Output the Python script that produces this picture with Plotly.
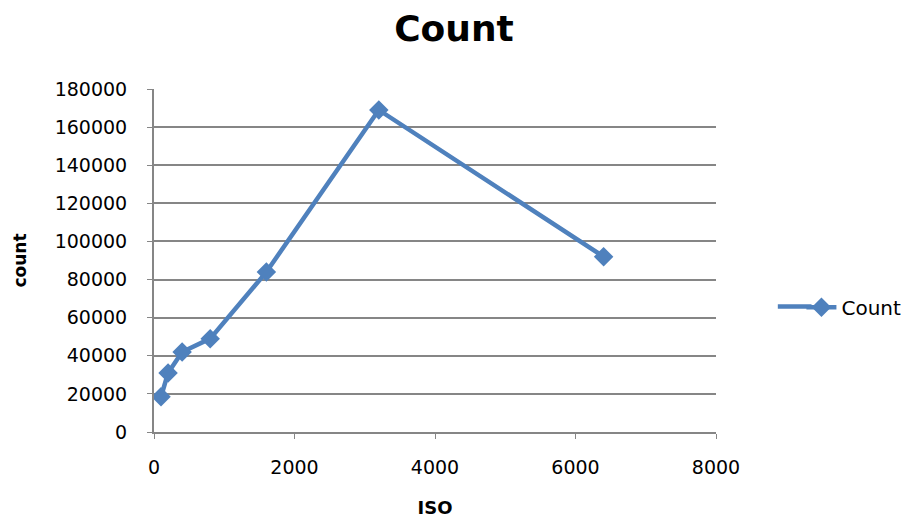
import plotly.graph_objects as go

# ISO sensitivity vs. count
iso = [100, 200, 400, 800, 1600, 3200, 6400]
count = [18500, 31000, 42000, 49000, 84000, 169000, 92000]

x_ticks = [0, 2000, 4000, 6000, 8000]
y_ticks = list(range(0, 180001, 20000))

FONT = "'DejaVu Sans', Verdana, sans-serif"
BLUE = "#4F81BD"
AXIS_GREY = "#868686"

fig = go.Figure(
    go.Scatter(
        x=iso,
        y=count,
        mode="lines+markers",
        name="Count",
        line=dict(color=BLUE, width=4.5),
        marker=dict(symbol="diamond", size=15, color=BLUE),
    )
)

fig.update_layout(
    width=908,
    height=520,
    paper_bgcolor="white",
    plot_bgcolor="white",
    margin=dict(l=154, r=192, t=89, b=88, autoexpand=False),
    font=dict(family=FONT, color="black", size=19),
    title=dict(
        text="<b>Count</b>",
        x=0.5,
        xanchor="center",
        y=0.945,
        yanchor="middle",
        font=dict(size=36, family=FONT),
    ),
    showlegend=True,
    legend=dict(
        x=1.152,
        y=0.364,
        xanchor="left",
        yanchor="middle",
        font=dict(size=20),
        bgcolor="rgba(0,0,0,0)",
    ),
    # longer legend key line, extending the built-in symbol to the left
    shapes=[
        dict(
            type="line",
            xref="paper",
            yref="paper",
            x0=1.11,
            x1=1.17,
            y0=0.366,
            y1=0.366,
            line=dict(color=BLUE, width=4.5),
            layer="below",
        )
    ],
)

fig.update_xaxes(
    range=[0, 8000],
    tickvals=x_ticks,
    ticktext=[str(v) for v in x_ticks],
    showgrid=False,
    zeroline=False,
    showline=True,
    linecolor=AXIS_GREY,
    linewidth=2,
    ticks="outside",
    ticklen=5,
    tickcolor=AXIS_GREY,
    tickfont=dict(size=19),
    ticklabelstandoff=12,
    automargin=False,
    title=dict(text="<b>ISO</b>", font=dict(size=18), standoff=25),
)

fig.update_yaxes(
    range=[0, 180000],
    tickvals=y_ticks,
    ticktext=[str(v) for v in y_ticks],
    showgrid=True,
    gridcolor=AXIS_GREY,
    gridwidth=1.5,
    zeroline=False,
    showline=True,
    linecolor=AXIS_GREY,
    linewidth=2,
    ticks="outside",
    ticklen=5,
    tickcolor=AXIS_GREY,
    tickfont=dict(size=19),
    ticklabelstandoff=16,
    automargin=False,
    title=dict(text="<b>count</b>", font=dict(size=17), standoff=24),
)

fig.write_html("out.html")
